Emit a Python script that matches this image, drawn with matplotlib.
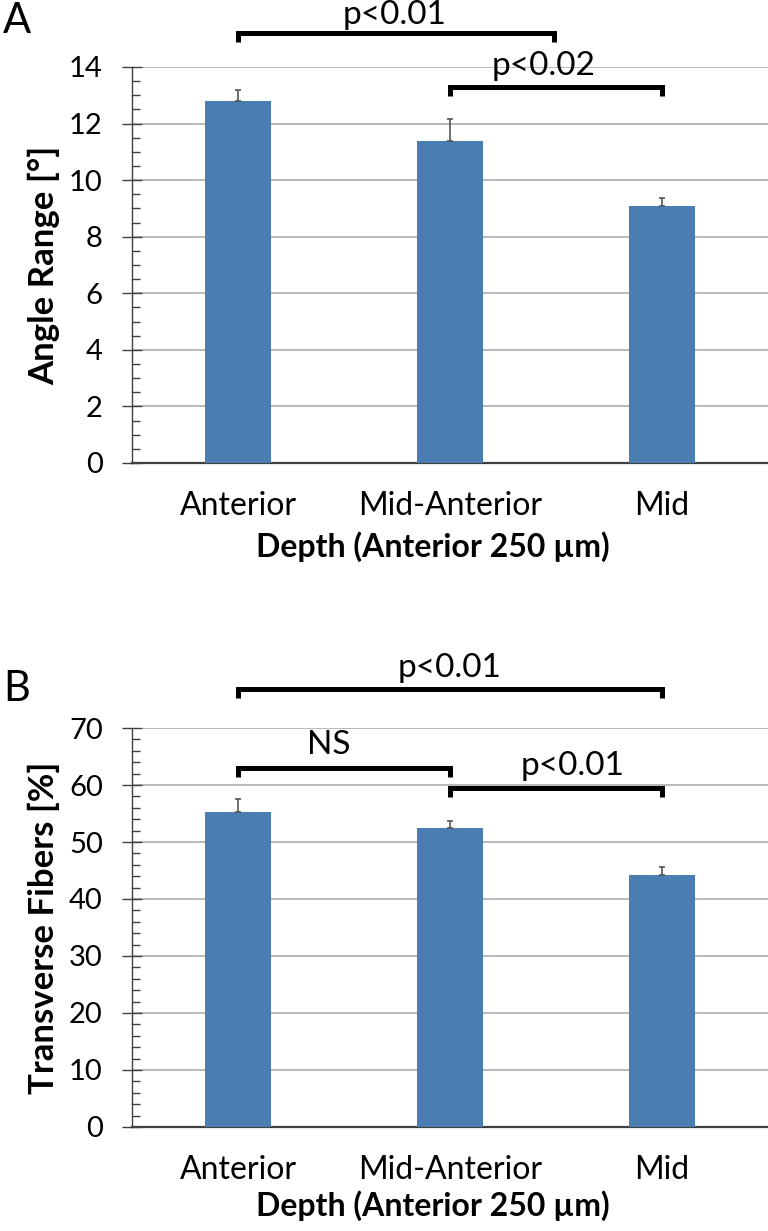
import matplotlib
matplotlib.use("Agg")
import matplotlib.pyplot as plt
from matplotlib.ticker import MultipleLocator
import numpy as np

plt.rcParams['font.family'] = ['Lato', 'DejaVu Sans']

# data
categories = ['Anterior', 'Mid-Anterior', 'Mid']
angle_range = [12.8, 11.4, 9.1]
angle_err = [0.4, 0.75, 0.25]
transverse = [55.3, 52.4, 44.2]
transverse_err = [2.2, 1.3, 1.5]

# significance brackets: (x0, x1, y, label, text_x, text_y)
brackets_a = [(0, 1.49, 15.2, 'p<0.01', 0.74, 15.85),
              (1, 2, 13.3, 'p<0.02', 1.44, 14.05)]
brackets_b = [(0, 2, 76.8, 'p<0.01', 1.0, 80.6),
              (0, 1, 63.0, 'NS', 0.43, 67.0),
              (1, 2, 59.5, 'p<0.01', 1.58, 63.4)]

bar_color = '#4A7EB3'
axis_color = '#404040'
x = np.arange(len(categories))

fig = plt.figure(figsize=(7.68, 12.31), dpi=100)
ax_a = fig.add_axes([0.1719, 0.6239, 0.8281, 0.3217])
ax_b = fig.add_axes([0.1719, 0.0845, 0.8281, 0.3241])


def style_panel(ax, values, errs, ymax, major, minor, ylabel, brackets, drop, xlab_y):
    ax.bar(x, values, width=0.31, color=bar_color, zorder=3)
    ax.errorbar(x, values, yerr=[np.zeros(len(errs)), errs], fmt='none',
                ecolor='#555555', elinewidth=1.2, capsize=2.5, capthick=1.2, zorder=4)
    ax.set_xlim(-0.5, 2.5)
    ax.set_ylim(0, ymax)
    ax.yaxis.set_major_locator(MultipleLocator(major))
    ax.yaxis.set_minor_locator(MultipleLocator(minor))
    ax.grid(axis='y', which='major', color='#b3b3b3', lw=1.3, zorder=0)
    ax.set_axisbelow(True)
    for s in ['top', 'right']:
        ax.spines[s].set_visible(False)
    ax.spines['left'].set_color(axis_color)
    ax.spines['left'].set_linewidth(1.0)
    ax.spines['bottom'].set_color(axis_color)
    ax.spines['bottom'].set_linewidth(1.6)
    ax.tick_params(axis='y', which='major', direction='inout', length=14,
                   width=1, color=axis_color, labelsize=21, pad=14)
    ax.tick_params(axis='y', which='minor', direction='in', length=6,
                   width=1, color=axis_color)
    ax.set_xticks(x)
    ax.set_xticklabels(categories)
    ax.tick_params(axis='x', length=0, labelsize=23, pad=20)
    ax.set_xlabel('Depth (Anterior 250 µm)', fontsize=23, fontweight='bold')
    ax.xaxis.set_label_coords(0.473, xlab_y)
    ax.set_ylabel(ylabel, fontsize=25, fontweight='bold')
    ax.yaxis.set_label_coords(-0.113, 0.5)
    for x0, x1, y, label, tx, ty in brackets:
        ax.plot([x0, x0, x1, x1], [y - drop, y, y, y - drop], color='black',
                lw=3.6, clip_on=False, solid_capstyle='butt', solid_joinstyle='miter', zorder=5)
        ax.text(tx, ty, label, ha='center', va='center', fontsize=24, clip_on=False)


style_panel(ax_a, angle_range, angle_err, 14, 2, 0.5, 'Angle Range [°]', brackets_a, 0.32, -0.172)
style_panel(ax_b, transverse, transverse_err, 70, 10, 2, 'Transverse Fibers [%]', brackets_b, 1.6, -0.158)

fig.text(0.004, 0.9985, 'A', fontsize=30, va='top', ha='left')
fig.text(0.004, 0.4555, 'B', fontsize=30, va='top', ha='left')

fig.savefig('out.png', dpi=100)
